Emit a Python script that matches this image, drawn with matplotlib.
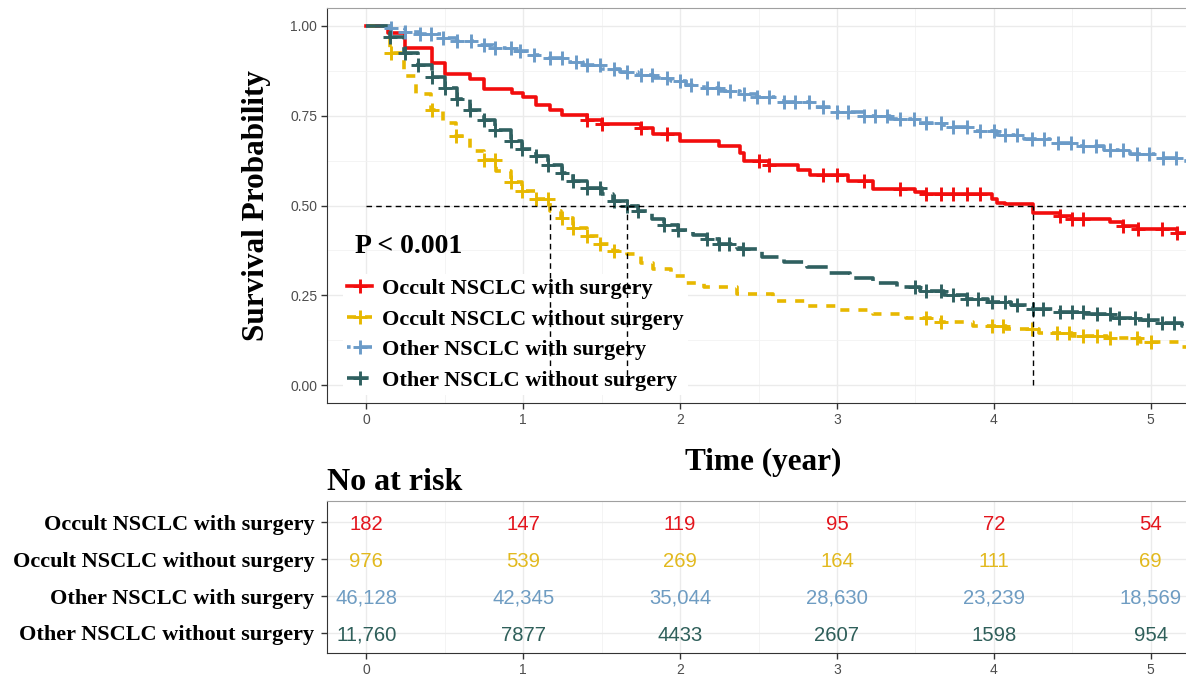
import numpy as np
import matplotlib
matplotlib.use("Agg")
import matplotlib.pyplot as plt
from matplotlib.lines import Line2D
from matplotlib.ticker import MultipleLocator

# ---- data ----
groups = ["Occult NSCLC with surgery", "Occult NSCLC without surgery",
          "Other NSCLC with surgery", "Other NSCLC without surgery"]
colors = ["#F20D0D", "#E7B800", "#6B9BC8", "#2F6060"]
table_colors = ["#E3141C", "#E2B91E", "#6E9CC2", "#2F5F5A"]

# Kaplan-Meier step points (time in years, survival)
occ_surg_t = [0, 0.14, 0.25, 0.42, 0.50, 0.66, 0.75, 0.93, 1.00, 1.08, 1.17, 1.25, 1.41,
              1.50, 1.75, 1.83, 2.00, 2.25, 2.38, 2.41, 2.57, 2.75, 2.83, 3.07, 3.23,
              3.50, 3.57, 3.99, 4.02, 4.07, 4.25, 4.42, 4.50, 4.74, 4.82, 4.92, 5.17]
occ_surg_s = [1.0, 0.98, 0.94, 0.898, 0.867, 0.852, 0.824, 0.813, 0.802, 0.78, 0.767, 0.751,
              0.739, 0.728, 0.716, 0.70, 0.679, 0.665, 0.647, 0.623, 0.612, 0.60, 0.586,
              0.567, 0.546, 0.537, 0.531, 0.517, 0.506, 0.503, 0.48, 0.471, 0.463, 0.454,
              0.444, 0.435, 0.424]
occ_surg_cens = [1.41, 1.50, 1.75, 1.92, 2.50, 2.57, 2.91, 3.00, 3.17, 3.40, 3.57, 3.66,
                 3.74, 3.83, 3.91, 4.42, 4.50, 4.57, 4.82, 4.92, 5.07, 5.17]

occ_nosurg_t = [0, 0.15, 0.24, 0.32, 0.41, 0.49, 0.57, 0.66, 0.75, 0.83, 0.92, 0.99, 1.08,
                1.17, 1.24, 1.32, 1.41, 1.49, 1.57, 1.66, 1.75, 1.83, 1.94, 2.04, 2.15,
                2.36, 2.59, 2.81, 3.02, 3.23, 3.44, 3.66, 3.87, 4.08, 4.29, 4.50, 4.72,
                4.93, 5.20]
occ_nosurg_s = [1.0, 0.924, 0.86, 0.81, 0.767, 0.73, 0.693, 0.651, 0.628, 0.595, 0.565,
                0.54, 0.517, 0.484, 0.466, 0.438, 0.415, 0.392, 0.373, 0.364, 0.341, 0.324,
                0.304, 0.285, 0.273, 0.253, 0.234, 0.22, 0.209, 0.199, 0.187, 0.176,
                0.165, 0.156, 0.144, 0.137, 0.13, 0.12, 0.105]
occ_nosurg_cens = [0.16, 0.42, 0.57, 0.75, 0.82, 0.92, 0.99, 1.08, 1.16, 1.25, 1.32, 1.41,
                   1.49, 1.58, 3.57, 3.66, 3.99, 4.06, 4.24, 4.40, 4.48, 4.57, 4.66, 4.74,
                   4.91, 5.00]

oth_surg_t = [0, 0.16, 0.25, 0.34, 0.49, 0.58, 0.71, 0.82, 0.93, 1.04, 1.16, 1.28, 1.38,
              1.50, 1.62, 1.73, 1.83, 1.94, 2.04, 2.15, 2.25, 2.38, 2.49, 2.66, 2.83,
              3.00, 3.17, 3.34, 3.51, 3.68, 3.85, 4.02, 4.19, 4.36, 4.53, 4.70, 4.87,
              5.04, 5.20]
oth_surg_s = [1.0, 0.993, 0.984, 0.977, 0.966, 0.957, 0.947, 0.938, 0.929, 0.919, 0.91,
              0.901, 0.892, 0.881, 0.873, 0.864, 0.855, 0.846, 0.836, 0.827, 0.82, 0.81,
              0.801, 0.787, 0.774, 0.759, 0.75, 0.741, 0.73, 0.719, 0.707, 0.697, 0.685,
              0.674, 0.665, 0.654, 0.644, 0.632, 0.623]
oth_surg_cens = [0.16, 0.25, 0.34, 0.41, 0.49, 0.58, 0.67, 0.75, 0.82, 0.92, 0.98, 1.07,
                 1.17, 1.25, 1.34, 1.41, 1.49, 1.58, 1.66, 1.75, 1.82, 1.92, 2.00, 2.07,
                 2.17, 2.24, 2.32, 2.41, 2.49, 2.57, 2.66, 2.73, 2.82, 2.91, 3.00, 3.07,
                 3.17, 3.24, 3.32, 3.40, 3.49, 3.57, 3.66, 3.74, 3.83, 3.91, 4.00, 4.07,
                 4.15, 4.24, 4.32, 4.41, 4.49, 4.57, 4.65, 4.74, 4.82, 4.91, 4.99, 5.08,
                 5.16]

oth_nosurg_t = [0, 0.15, 0.24, 0.33, 0.42, 0.50, 0.58, 0.66, 0.75, 0.82, 0.92, 0.99, 1.08,
                1.16, 1.25, 1.32, 1.41, 1.50, 1.57, 1.66, 1.73, 1.82, 1.90, 1.99, 2.08,
                2.17, 2.25, 2.36, 2.40, 2.52, 2.66, 2.81, 2.94, 3.08, 3.23, 3.38, 3.53,
                3.68, 3.83, 3.96, 4.11, 4.25, 4.42, 4.59, 4.75, 4.91, 5.07, 5.20]
oth_nosurg_s = [1.0, 0.97, 0.926, 0.89, 0.857, 0.827, 0.797, 0.767, 0.739, 0.711, 0.679,
                0.656, 0.637, 0.614, 0.591, 0.567, 0.549, 0.531, 0.512, 0.498, 0.484,
                0.463, 0.447, 0.433, 0.419, 0.406, 0.394, 0.383, 0.378, 0.357, 0.343,
                0.329, 0.313, 0.299, 0.285, 0.274, 0.262, 0.25, 0.241, 0.231, 0.222,
                0.213, 0.204, 0.197, 0.188, 0.18, 0.172, 0.165]
oth_nosurg_cens = [0.15, 0.25, 0.33, 0.42, 0.50, 0.58, 0.66, 0.75, 0.82, 0.92, 0.99, 1.08,
                   1.16, 1.25, 1.32, 1.41, 1.49, 1.58, 1.66, 1.73, 1.90, 1.99, 2.17, 2.25,
                   2.31, 2.40, 3.50, 3.57, 3.66, 3.74, 3.83, 3.90, 3.99, 4.07, 4.15, 4.25,
                   4.31, 4.42, 4.50, 4.57, 4.66, 4.74, 4.80, 4.90, 4.98, 5.07, 5.15]

medians = [1.17, 1.66, 4.25]

risk_times = [0, 1, 2, 3, 4, 5]
risk_occ_surg = ["182", "147", "119", "95", "72", "54"]
risk_occ_nosurg = ["976", "539", "269", "164", "111", "69"]
risk_oth_surg = ["46,128", "42,345", "35,044", "28,630", "23,239", "18,569"]
risk_oth_nosurg = ["11,760", "7877", "4433", "2607", "1598", "954"]

curves = [(occ_surg_t, occ_surg_s, occ_surg_cens),
          (occ_nosurg_t, occ_nosurg_s, occ_nosurg_cens),
          (oth_surg_t, oth_surg_s, oth_surg_cens),
          (oth_nosurg_t, oth_nosurg_s, oth_nosurg_cens)]
risk_rows = [risk_occ_surg, risk_occ_nosurg, risk_oth_surg, risk_oth_nosurg]
styles = ["-", (0, (2.5, 2.5)), (0, (1, 3, 4, 3)), (0, (6, 2.2))]

SERIF = "Liberation Serif"
SANS = "Liberation Sans"
XMAX = 5.25
LW = 2.6
MS, MEW = 10, 2.1

fig = plt.figure(figsize=(11.86, 6.75), dpi=100)
W, H = 1186, 675


def px_axes(l, t, r, b):
    return fig.add_axes([l / W, 1 - b / H, (r - l) / W, (b - t) / H])


def style_grid(ax):
    ax.set_axisbelow(True)
    ax.grid(True, which="major", color="#EBEBEB", linewidth=1.0)
    ax.grid(True, which="minor", color="#F2F2F2", linewidth=0.6)
    ax.spines["left"].set_color("#333333")
    ax.spines["bottom"].set_color("#333333")
    ax.spines["top"].set_color("#A0A0A0")
    ax.spines["right"].set_color("#A0A0A0")
    ax.tick_params(which="major", length=4, width=1, color="#333333",
                   labelcolor="#4D4D4D", labelsize=10, pad=3)
    ax.tick_params(which="minor", length=0)
    for lab in ax.get_xticklabels() + ax.get_yticklabels():
        lab.set_fontfamily(SANS)


# ---- survival plot ----
ax = px_axes(327, 8, 1190, 403)
ax.set_xlim(-0.25, XMAX)
ax.set_ylim(-0.05, 1.05)
ax.set_xticks(range(6))
ax.xaxis.set_minor_locator(MultipleLocator(0.5))
ax.set_yticks([0, 0.25, 0.5, 0.75, 1.0])
ax.set_yticklabels(["0.00", "0.25", "0.50", "0.75", "1.00"])
ax.yaxis.set_minor_locator(MultipleLocator(0.125))
style_grid(ax)

for (t, s, cens), col, ls in zip(curves, colors, styles):
    t = np.array(t + [XMAX])
    s = np.array(s + [s[-1]])
    ax.step(t, s, where="post", color=col, lw=LW, linestyle=ls, zorder=4)
    cens = np.array(cens)
    idx = np.searchsorted(t, cens, side="right") - 1
    ax.plot(cens, s[idx], linestyle="none", marker="+", markersize=MS,
            markeredgewidth=MEW, color=col, zorder=5)

# median lines
ax.hlines(0.5, 0, XMAX, colors="black", linestyles=(0, (4, 3)), lw=1.0, zorder=6)
ax.vlines(medians, 0, 0.5, colors="black", linestyles=(0, (4, 3)), lw=1.0, zorder=6)

ax.text(-0.07, 0.385, "P < 0.001", fontfamily=SERIF, fontweight="bold",
        fontsize=20, ha="left", va="center", zorder=7)

handles = [Line2D([], [], color=c, lw=LW, linestyle=ls, marker="+", markersize=MS,
                  markeredgewidth=MEW) for c, ls in zip(colors, styles)]
leg = ax.legend(handles, groups, loc="upper left",
                bbox_to_anchor=(343 / W, 1 - 274 / H), bbox_transform=fig.transFigure,
                prop={"family": SERIF, "weight": "bold", "size": 16},
                frameon=True, facecolor="white", edgecolor="none", framealpha=1,
                fancybox=False, handlelength=1.1, handletextpad=0.45,
                labelspacing=0.45, borderpad=0.2, borderaxespad=0)
leg.set_zorder(3)

ax.set_ylabel("Survival Probability", fontfamily=SERIF, fontweight="bold",
              fontsize=22.5, labelpad=14)
fig.text(763 / W, 1 - 462 / H, "Time (year)", fontfamily=SERIF, fontweight="bold",
         fontsize=22.5, ha="center", va="center")

# ---- number at risk table ----
ax2 = px_axes(327, 501, 1190, 653)
ax2.set_xlim(-0.25, XMAX)
ax2.set_ylim(0.458, 4.572)
ax2.set_xticks(risk_times)
ax2.xaxis.set_minor_locator(MultipleLocator(0.5))
rows_y = [4, 3, 2, 1]
ax2.set_yticks(rows_y)
ax2.set_yticklabels(groups)
style_grid(ax2)
ax2.grid(False, axis="y", which="minor")
ax2.tick_params(axis="y", pad=5)
for lab in ax2.get_yticklabels():
    lab.set_fontfamily(SERIF)
    lab.set_fontweight("bold")
    lab.set_fontsize(16)
    lab.set_color("black")

for y, vals, col in zip(rows_y, risk_rows, table_colors):
    for x, v in zip(risk_times, vals):
        ax2.text(x, y - 0.06, v, color=col, fontfamily=SANS, fontsize=14.6,
                 ha="center", va="center")

fig.text(327 / W, 1 - 482 / H, "No at risk", fontfamily=SERIF, fontweight="bold",
         fontsize=23, ha="left", va="center")

fig.savefig("out.png", dpi=100)
